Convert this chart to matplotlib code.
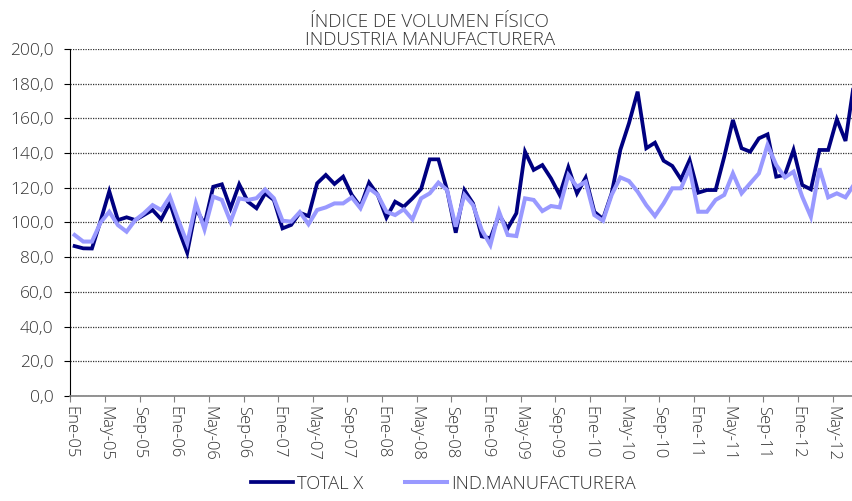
import numpy as np
import matplotlib
matplotlib.use('Agg')
import matplotlib.pyplot as plt

plt.rcParams['font.family'] = ['Open Sans', 'DejaVu Sans']

## Data (monthly, Ene-05 .. Jul-12) ##
meses = ['Ene', 'Feb', 'Mar', 'Abr', 'May', 'Jun', 'Jul', 'Ago', 'Sep', 'Oct', 'Nov', 'Dic']

total_x = [86.4, 85.1, 85.0, 101.0, 118.0, 101.4, 103.0, 101.4, 104.3, 107.2, 101.8, 111.4,
           96.0, 82.6, 108.0, 99.0, 120.6, 122.0, 108.2, 122.0, 112.0, 108.2, 116.8, 113.0,
           96.6, 98.6, 105.6, 103.7, 122.6, 127.4, 122.2, 126.4, 115.9, 109.1, 123.0, 115.9,
           102.8, 112.0, 109.1, 113.9, 119.3, 136.4, 136.4, 118.7, 94.1, 118.7, 111.0, 92.0,
           90.9, 104.3, 96.6, 105.3, 140.8, 130.3, 133.1, 125.4, 115.9, 131.8, 116.8, 125.8,
           106.2, 102.0, 116.8, 141.8, 157.2, 175.4, 142.8, 146.0, 135.6, 132.6, 124.9, 136.0,
           117.2, 118.7, 118.7, 137.9, 159.1, 142.8, 140.8, 148.5, 150.8, 126.4, 127.4, 141.8,
           121.6, 119.1, 141.8, 141.8, 159.5, 147.0, 181.0]

ind_manuf = [92.8, 89.0, 89.0, 100.0, 106.2, 98.5, 94.7, 101.4, 105.3, 110.0, 107.2, 114.9,
             101.0, 88.0, 111.0, 96.0, 114.9, 113.0, 100.5, 113.9, 113.0, 114.0, 119.0, 114.0,
             101.0, 100.5, 106.0, 99.0, 107.2, 108.7, 111.0, 111.0, 114.5, 108.2, 119.7, 115.9,
             106.2, 104.3, 107.6, 101.8, 113.9, 116.8, 123.0, 118.7, 97.6, 115.9, 110.0, 95.7,
             87.0, 106.2, 92.8, 92.2, 113.9, 113.0, 106.6, 109.5, 108.7, 127.4, 120.6, 123.5,
             104.3, 101.0, 115.9, 126.0, 123.9, 117.8, 110.0, 103.7, 111.0, 119.7, 119.7, 131.2,
             106.2, 106.2, 113.0, 115.9, 128.3, 116.8, 122.6, 128.3, 144.7, 133.1, 126.0, 129.3,
             114.9, 103.3, 131.2, 114.5, 116.8, 114.5, 122.0]

n = len(total_x)
labels = ['%s-%02d' % (meses[i % 12], 5 + i // 12) for i in range(n)]

x = np.arange(n)
tick_idx = np.arange(0, n, 4)
yvals = np.arange(0, 201, 20)

#### Plot ####
fig = plt.figure(figsize=(8.52, 5.01), dpi=100)
ax = fig.add_axes([0.0825, 0.2096, 0.9175, 0.6926])

ax.plot(x, total_x, color='#000080', lw=2.7, label='TOTAL X', solid_joinstyle='miter')
ax.plot(x, ind_manuf, color='#9999FF', lw=2.9, label='IND.MANUFACTURERA', solid_joinstyle='miter')

ax.set_ylim(0, 200)
ax.set_yticks(yvals)
ax.set_yticklabels([('%.1f' % v).replace('.', ',') for v in yvals], color='#333333',
                   fontsize=12.5, fontweight='light')
ax.yaxis.grid(True, linestyle=(0, (1, 1)), color='#333333', lw=0.9)
ax.set_axisbelow(True)

# categories sit between tick marks
ax.set_xlim(-0.5, 89.75)
ax.set_xticks(tick_idx - 0.5)
ax.set_xticklabels([labels[i] for i in tick_idx], rotation=270, ha='center', va='top',
                   color='#333333', fontsize=12, fontweight='light')
ax.tick_params(axis='x', length=4, color='#808080', pad=3)
ax.tick_params(axis='y', length=4, color='#000000', pad=8)

for s in ['top', 'right']:
    ax.spines[s].set_visible(False)
ax.spines['left'].set_color('#000000')
ax.spines['bottom'].set_color('#808080')
ax.spines['bottom'].set_linewidth(1.2)

ax.set_title('ÍNDICE DE VOLUMEN FÍSICO\nINDUSTRIA MANUFACTURERA', fontsize=13.5,
             color='#333333', linespacing=1.0, pad=3, x=0.46, fontweight='light')

leg = fig.legend(loc='lower center', bbox_to_anchor=(0.52, -0.016), ncol=2, frameon=False,
                 handlelength=2.3, handletextpad=0.2, columnspacing=2.3,
                 labelcolor='#333333', prop={'weight': 'light', 'size': 13.2})

plt.savefig('out.png', dpi=100)
